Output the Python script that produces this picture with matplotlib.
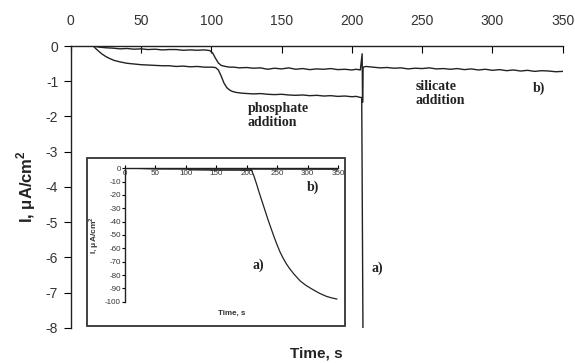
import matplotlib
matplotlib.use("Agg")
import matplotlib.pyplot as plt
from matplotlib.patches import Rectangle

plt.rcParams['axes.unicode_minus'] = False
plt.rcParams['font.family'] = ['Liberation Sans', 'DejaVu Sans']
plt.rcParams['mathtext.fontset'] = 'custom'
plt.rcParams['mathtext.bf'] = 'Liberation Sans:bold'
plt.rcParams['mathtext.rm'] = 'Liberation Sans'

# ---- data ----
# main view, curve a)
t_a = [16, 18, 20, 22, 25, 28, 31, 35, 40, 45, 50, 55, 60, 65, 70, 75, 80, 85, 90, 95,
       100, 103, 105, 107, 109, 111, 113, 115, 118, 122, 126, 130, 135, 140, 145, 150,
       155, 160, 165, 170, 175, 180, 185, 190, 195, 200, 203, 206, 207, 208]
i_a = [0.0, -0.08, -0.15, -0.22, -0.30, -0.36, -0.41, -0.45, -0.49, -0.51, -0.53, -0.54,
       -0.55, -0.56, -0.56, -0.58, -0.57, -0.59, -0.58, -0.60,
       -0.60, -0.61, -0.68, -0.85, -1.05, -1.18, -1.25, -1.29, -1.32, -1.34, -1.35, -1.36,
       -1.35, -1.37, -1.38, -1.37, -1.39, -1.40, -1.39, -1.41, -1.40, -1.42, -1.41, -1.43,
       -1.42, -1.44, -1.43, -1.46, -1.46, -9.0]

# inset view, curve a) over the full range
t_a_in = [16, 50, 100, 110, 150, 205, 208, 212, 216, 220, 225, 230, 235, 240, 245, 250,
          255, 260, 265, 271, 278, 288, 298, 309, 320, 331, 340, 348]
i_a_in = [0.0, -0.5, -0.6, -1.2, -1.4, -1.45, -1.5, -6.0, -11.5, -17.5, -24.5, -31.5,
          -38.5, -45.0, -51.5, -57.5, -63.0, -67.5, -71.5, -75.5, -79.5, -84.5, -88.0,
          -91.0, -93.8, -96.0, -97.2, -98.0]

# curve b)
t_b = [16, 20, 25, 30, 35, 40, 45, 50, 55, 60, 65, 70, 75, 80, 85, 90, 95, 99, 101, 103,
       105, 107, 110, 113, 116, 120, 125, 130, 135, 140, 145, 150, 155, 160, 165, 170, 175,
       180, 185, 190, 195, 200, 203, 206, 207.3, 207.6, 208, 210, 215, 220, 225, 230, 235,
       240, 245, 250, 255, 260, 265, 270, 275, 280, 285, 290, 295, 300, 305, 310, 315, 320,
       325, 330, 335, 340, 345, 350]
i_b = [0.0, -0.03, -0.05, -0.06, -0.08, -0.07, -0.09, -0.08, -0.10, -0.09, -0.11, -0.10,
       -0.10, -0.12, -0.11, -0.12, -0.11, -0.13, -0.20, -0.35, -0.48, -0.55, -0.58, -0.60,
       -0.60, -0.62, -0.61, -0.63, -0.62, -0.66, -0.63, -0.65, -0.62, -0.66, -0.64, -0.67,
       -0.65, -0.66, -0.64, -0.67, -0.66, -0.68, -0.66, -0.68, -0.22, -1.60, -0.60,
       -0.58, -0.60, -0.62, -0.61, -0.63, -0.62, -0.65, -0.63, -0.64, -0.62, -0.65, -0.64,
       -0.66, -0.64, -0.67, -0.65, -0.68, -0.66, -0.69, -0.67, -0.70, -0.68, -0.71, -0.69,
       -0.72, -0.70, -0.71, -0.73, -0.72]

x_ticks = [0, 50, 100, 150, 200, 250, 300, 350]
y_ticks_main = [0, -1, -2, -3, -4, -5, -6, -7, -8]
y_ticks_inset = [0, -10, -20, -30, -40, -50, -60, -70, -80, -90, -100]

LINE = '#222222'
TXT = '#333333'

fig = plt.figure(figsize=(5.75, 3.63), dpi=100)

# ---- main axes ----
ax = fig.add_axes([0.1230, 0.0972, 0.8557, 0.7760])
ax.plot(t_b, i_b, color=LINE, lw=1.0)
ax.plot(t_a, i_a, color=LINE, lw=1.0)
ax.set_xlim(0, 350)
ax.set_ylim(-8, 0)
ax.spines['right'].set_visible(False)
ax.spines['bottom'].set_visible(False)
for s in ('left', 'top'):
    ax.spines[s].set_color('#222222')
    ax.spines[s].set_linewidth(1.0)
ax.xaxis.tick_top()
ax.set_xticks(x_ticks)
ax.set_yticks(y_ticks_main)
ax.tick_params(axis='x', direction='in', length=5, pad=13, labelsize=10, labelcolor=TXT)
ax.tick_params(axis='y', direction='out', length=5, pad=4, labelsize=10, labelcolor=TXT)
ax.set_xlabel('Time, s', fontsize=11, fontweight='bold', color='#222222')
ax.xaxis.set_label_position('bottom')
ax.xaxis.set_label_coords(0.5, -0.065)
ax.set_ylabel(r'I, μA/cm$^\mathbf{2}$', fontsize=12, fontweight='bold', color='#222222')
ax.yaxis.set_label_coords(-0.066, 0.5)

serif = ['Liberation Serif', 'DejaVu Serif']
ax.text(126, -1.6, 'phosphate\naddition', family=serif, fontweight='bold', fontsize=10,
        va='top', ha='left', color='#222222', linespacing=1.1)
ax.text(245.5, -0.97, 'silicate\naddition', family=serif, fontweight='bold', fontsize=10,
        va='top', ha='left', color='#222222', linespacing=1.1)
ax.text(329, -1.0, 'b)', family=serif, fontweight='bold', fontsize=10,
        va='top', ha='left', color='#222222')
ax.text(214, -6.3, 'a)', family=serif, fontweight='bold', fontsize=10,
        va='center', ha='left', color='#222222')

# ---- inset frame ----
frame = Rectangle((0.1508, 0.102), 0.449, 0.462, transform=fig.transFigure,
                  facecolor='white', edgecolor='#333333', lw=1.3, zorder=2)
fig.add_artist(frame)

# ---- inset axes ----
axi = fig.add_axes([0.2174, 0.1689, 0.3704, 0.3675], zorder=3)
axi.patch.set_alpha(0)
axi.plot(t_b, i_b, color=LINE, lw=0.9)
axi.plot(t_a_in, i_a_in, color=LINE, lw=0.9)
axi.set_xlim(0, 350)
axi.set_ylim(-100, 0)
axi.spines['right'].set_visible(False)
axi.spines['top'].set_visible(False)
axi.spines['bottom'].set_position(('data', 0))
for s in ('left', 'bottom'):
    axi.spines[s].set_color('#222222')
    axi.spines[s].set_linewidth(1.0)
axi.set_xticks(x_ticks)
axi.set_yticks(y_ticks_inset)
axi.tick_params(axis='x', direction='in', length=2, pad=1, labelsize=5.8, labelcolor=TXT)
axi.tick_params(axis='y', direction='out', length=2, pad=1, labelsize=5.8, labelcolor=TXT)
axi.set_xlabel('Time, s', fontsize=5.8, fontweight='bold', color=TXT)
axi.xaxis.set_label_coords(0.5, -0.06)
axi.set_ylabel(r'I, μA/cm$^\mathbf{2}$', fontsize=6, fontweight='bold', color=TXT)
axi.yaxis.set_label_coords(-0.115, 0.5)
axi.text(298, -14, 'b)', family=serif, fontweight='bold', fontsize=10,
         va='center', ha='left', color='#222222')
axi.text(210, -72.5, 'a)', family=serif, fontweight='bold', fontsize=10,
         va='center', ha='left', color='#222222')

fig.savefig('out.png', dpi=100)
